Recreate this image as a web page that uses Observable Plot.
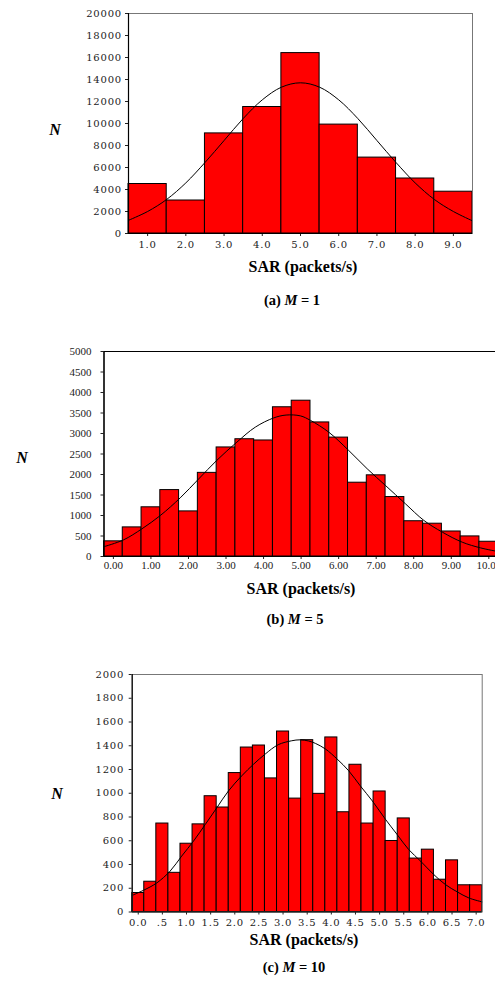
<!DOCTYPE html>
<html><head><meta charset="utf-8">
<script src="https://cdn.jsdelivr.net/npm/d3@7"></script>
<script src="https://cdn.jsdelivr.net/npm/@observablehq/plot@0.6"></script>
<style>
html,body{margin:0;padding:0;background:#fff;overflow:hidden}
#root{position:relative;width:495px;height:992px;overflow:hidden;background:#fff}
.panel{position:absolute;left:0}
.lbl{position:absolute;font-family:"Liberation Serif","Times New Roman",serif;font-weight:bold;color:#000;white-space:nowrap;transform:translate(-50%,-50%);line-height:1}
</style></head>
<body><div id="root"></div>
<script>
// ---------- Panel (a) M = 1 ----------
const aBins = [1, 2, 3, 4, 5, 6, 7, 8, 9];
const aCounts = [4500, 3000, 9100, 11500, 16400, 9900, 6900, 5000, 3800];
const aCurveX = [0.5, 1, 1.5, 2, 2.5, 3, 3.5, 4, 4.5, 5, 5.5, 6, 6.5, 7, 7.5, 8, 8.5, 9, 9.5];
const aCurveY = [1200, 2000, 3100, 4600, 6450, 8450, 10450, 12150, 13300, 13700, 13300, 12150, 10450, 8450, 6450, 4600, 3100, 2000, 1150];
const aYTicks = [0, 2000, 4000, 6000, 8000, 10000, 12000, 14000, 16000, 18000, 20000];
const aXTicks = [1, 2, 3, 4, 5, 6, 7, 8, 9];

// ---------- Panel (b) M = 5 ----------
const bBins = [0, 0.5, 1, 1.5, 2, 2.5, 3, 3.5, 4, 4.5, 5, 5.5, 6, 6.5, 7, 7.5, 8, 8.5, 9, 9.5, 10];
const bCounts = [370, 710, 1200, 1620, 1100, 2040, 2660, 2860, 2830, 3640, 3800, 3270, 2900, 1800, 1980, 1450, 860, 800, 610, 490, 360];
const bCurveX = [-0.25, 0.27, 0.76, 1.25, 1.78, 2.27, 2.76, 3.29, 3.78, 4.27, 4.6, 4.98, 5.25, 5.74, 6.27, 6.76, 7.25, 7.78, 8.27, 8.76, 9.29, 9.78, 10.25];
const bCurveY = [240, 405, 675, 1000, 1430, 1890, 2350, 2790, 3155, 3380, 3450, 3430, 3320, 3030, 2585, 2140, 1730, 1285, 880, 595, 350, 210, 120];
const bYTicks = [0, 500, 1000, 1500, 2000, 2500, 3000, 3500, 4000, 4500, 5000];
const bXTicks = [0, 1, 2, 3, 4, 5, 6, 7, 8, 9, 10];

// ---------- Panel (c) M = 10 ----------
const cBins = [0, 0.25, 0.5, 0.75, 1, 1.25, 1.5, 1.75, 2, 2.25, 2.5, 2.75, 3, 3.25, 3.5, 3.75, 4, 4.25, 4.5, 4.75, 5, 5.25, 5.5, 5.75, 6, 6.25, 6.5, 6.75, 7];
const cCounts = [160, 255, 745, 330, 575, 738, 975, 880, 1170, 1385, 1402, 1125, 1520, 955, 1447, 995, 1470, 840, 1240, 745, 1015, 598, 788, 450, 525, 272, 435, 225, 225];
const cCurveX = [-0.125, 0.14, 0.385, 0.66, 0.9, 1.145, 1.39, 1.63, 1.87, 2.145, 2.39, 2.63, 2.9, 3.18, 3.35, 3.53, 3.67, 3.88, 4.12, 4.36, 4.6, 4.85, 5.12, 5.36, 5.6, 5.85, 6.12, 6.36, 6.61, 6.85, 7.125];
const cCurveY = [140, 189, 245, 344, 471, 597, 738, 879, 1020, 1147, 1245, 1330, 1409, 1442, 1450, 1440, 1420, 1372, 1288, 1189, 1062, 935, 781, 654, 527, 428, 316, 232, 169, 118, 85];
const cYTicks = [0, 200, 400, 600, 800, 1000, 1200, 1400, 1600, 1800, 2000];
const cXTicks = [0, 0.5, 1, 1.5, 2, 2.5, 3, 3.5, 4, 4.5, 5, 5.5, 6, 6.5, 7];

const root = document.getElementById("root");

function panel(cfg) {
  const bars = cfg.bins.map((x, i) => ({x1: x - cfg.bw / 2, x2: x + cfg.bw / 2, n: cfg.counts[i]}));
  const curve = cfg.cx.map((x, i) => ({x, y: cfg.cy[i]}));
  const svg = Plot.plot({
    width: cfg.width,
    height: cfg.height,
    marginLeft: cfg.ml, marginRight: cfg.mr, marginTop: cfg.mt, marginBottom: cfg.mb,
    style: {fontFamily: cfg.font, fontSize: cfg.fontSize, color: "#222", background: "transparent",
            overflow: "visible", maxWidth: "none", letterSpacing: cfg.ls},
    x: {domain: cfg.xdomain, ticks: cfg.xticks, tickFormat: cfg.xfmt, tickSize: 3, tickPadding: cfg.xpad, label: null},
    y: {domain: cfg.ydomain, ticks: cfg.yticks, tickFormat: d => String(d), tickSize: 3, tickPadding: cfg.ypad, label: null},
    marks: [
      Plot.rectY(bars, {x1: "x1", x2: "x2", y: "n", fill: "#ff0000", stroke: "#000", strokeWidth: 1}),
      Plot.line(curve, {x: "x", y: "y", curve: "catmull-rom", stroke: "#000", strokeWidth: 1}),
      Plot.frame({stroke: cfg.frameColor, strokeWidth: 1}),
      Plot.ruleX([cfg.xdomain[0]], {stroke: "#000", strokeWidth: 1.2}),
      Plot.ruleY([0], {stroke: "#000", strokeWidth: 1.2})
    ]
  });
  svg.classList.add("panel");
  svg.style.top = cfg.top + "px";
  root.appendChild(svg);
}

panel({bins: aBins, counts: aCounts, bw: 1, cx: aCurveX, cy: aCurveY,
  width: 495, height: 255, ml: 128, mr: 23, mt: 13, mb: 22, top: 0,
  xdomain: [0.5, 9.5], ydomain: [0, 20000], xticks: aXTicks, yticks: aYTicks,
  xfmt: d => d.toFixed(1), xpad: 4, ypad: 3.5, font: "DejaVu Serif", fontSize: "10px", ls: "0.8px", frameColor: "#777"});

panel({bins: bBins, counts: bCounts, bw: 0.5, cx: bCurveX, cy: bCurveY,
  width: 520, height: 240, ml: 103.5, mr: 22.3, mt: 11, mb: 24, top: 340,
  xdomain: [-0.25, 10.25], ydomain: [0, 5000], xticks: bXTicks, yticks: bYTicks,
  xfmt: d => d.toFixed(2), xpad: 2, ypad: 9.5, font: "Liberation Serif", fontSize: "11px", ls: "0px", frameColor: "#000"});

panel({bins: cBins, counts: cCounts, bw: 0.25, cx: cCurveX, cy: cCurveY,
  width: 495, height: 275, ml: 131.7, mr: 13.3, mt: 14, mb: 23.5, top: 660,
  xdomain: [-0.125, 7.125], ydomain: [0, 2000], xticks: cXTicks, yticks: cYTicks,
  xfmt: d => (d === 0.5 ? ".5" : d.toFixed(1)), xpad: 4, ypad: 5, font: "DejaVu Serif", fontSize: "10px", ls: "0.8px", frameColor: "#777"});

// ---------- Text labels ----------
const texts = [
  {html: "<i>N</i>", x: 55, y: 130, size: 16},
  {html: "SAR (packets/s)", x: 303, y: 267, size: 16},
  {html: "(a) <i>M</i> = 1", x: 292, y: 300, size: 14.5},
  {html: "<i>N</i>", x: 22, y: 458, size: 16},
  {html: "SAR (packets/s)", x: 301, y: 589, size: 16},
  {html: "(b) <i>M</i> = 5", x: 295, y: 619, size: 14.5},
  {html: "<i>N</i>", x: 57, y: 794, size: 16},
  {html: "SAR (packets/s)", x: 304, y: 940, size: 16},
  {html: "(c) <i>M</i> = 10", x: 294, y: 967, size: 14.5}
];
for (const t of texts) {
  const d = document.createElement("div");
  d.className = "lbl";
  d.innerHTML = t.html;
  d.style.left = t.x + "px";
  d.style.top = t.y + "px";
  d.style.fontSize = t.size + "px";
  root.appendChild(d);
}
</script>
</body></html>
